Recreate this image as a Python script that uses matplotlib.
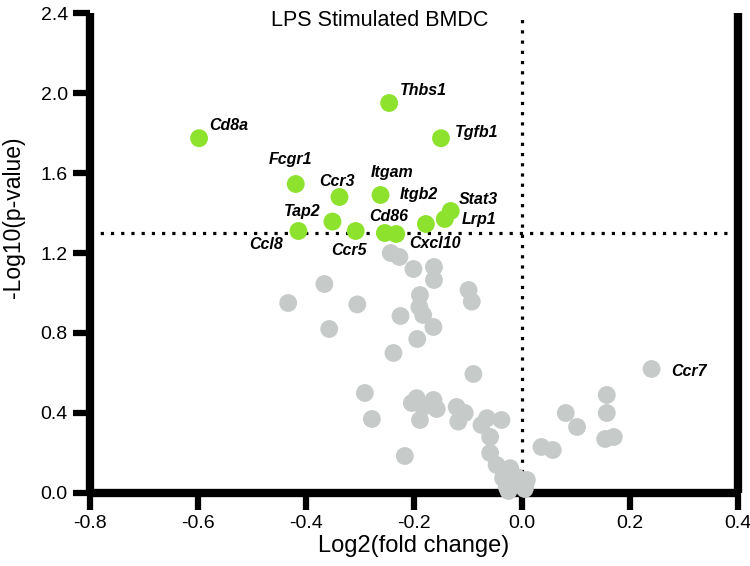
import matplotlib
matplotlib.use("Agg")
import matplotlib.pyplot as plt

plt.rcParams['font.family'] = ['Liberation Sans', 'DejaVu Sans']

# Significant genes (green)
sig_genes = ["Cd8a", "Thbs1", "Tgfb1", "Fcgr1", "Ccr3", "Itgam", "Stat3", "Lrp1",
             "Itgb2", "Tap2", "Ccl8", "Ccr5", "Cd86", "Cxcl10"]
sig_x = [-0.598, -0.246, -0.150, -0.419, -0.338, -0.262, -0.132, -0.143,
         -0.178, -0.351, -0.414, -0.308, -0.254, -0.233]
sig_y = [1.774, 1.950, 1.774, 1.545, 1.480, 1.490, 1.410, 1.370,
         1.345, 1.357, 1.310, 1.310, 1.300, 1.295]

# Non-significant genes (grey)
ns_x = [-0.243, -0.227, -0.201, -0.163, -0.163, -0.099, -0.093, -0.189, -0.190,
        -0.183, -0.225, -0.164, -0.194, -0.238, -0.366, -0.433, -0.305, -0.357,
        -0.090, -0.291, -0.278, -0.195, -0.164, -0.183, -0.158, -0.189, -0.204,
        -0.121, -0.106, -0.118, -0.065, -0.038, -0.075, -0.059, -0.217, -0.059,
        -0.047, -0.022, -0.035, -0.028, 0.006, 0.009, -0.010, 0.036, 0.057,
        0.081, 0.102, 0.157, 0.157, 0.154, 0.170, 0.240, -0.025, 0.005]
ns_y = [1.200, 1.180, 1.120, 1.130, 1.065, 1.015, 0.957, 0.990, 0.930,
        0.890, 0.885, 0.830, 0.770, 0.700, 1.045, 0.950, 0.943, 0.820,
        0.595, 0.500, 0.370, 0.474, 0.465, 0.430, 0.420, 0.365, 0.450,
        0.430, 0.400, 0.357, 0.374, 0.365, 0.340, 0.280, 0.185, 0.200,
        0.140, 0.124, 0.074, 0.030, 0.040, 0.065, 0.080, 0.230, 0.215,
        0.400, 0.330, 0.490, 0.400, 0.270, 0.280, 0.620, 0.010, 0.020]

ccr7_label = ("Ccr7", 0.240, 0.620)

# label offsets in points (dx, dy) and alignment
label_layout = {
    "Cd8a":   (7, 9, 'left'),
    "Thbs1":  (8, 9, 'left'),
    "Tgfb1":  (10, 4, 'left'),
    "Fcgr1":  (-4, 18, 'center'),
    "Ccr3":   (-2, 11, 'center'),
    "Itgam":  (8, 16, 'center'),
    "Stat3":  (6, 8, 'left'),
    "Lrp1":   (12, 0, 'left'),
    "Itgb2":  (-5, 21, 'center'),
    "Tap2":   (-22, 7, 'center'),
    "Ccl8":   (-23, -10, 'center'),
    "Ccr5":   (-5, -14, 'center'),
    "Cd86":   (3, 12, 'center'),
    "Cxcl10": (28, -7, 'center'),
}

xticks = [-0.8, -0.6, -0.4, -0.2, 0.0, 0.2, 0.4]
yticks = [0.0, 0.4, 0.8, 1.2, 1.6, 2.0, 2.4]

fig = plt.figure(figsize=(7.5, 5.66), dpi=100)
ax = fig.add_axes([0.12, 0.129, 0.864, 0.848])

green = '#8CE22C'
grey = '#C6CBC9'

ax.axhline(1.3, color='black', linestyle=(0, (1, 2.2)), linewidth=2.3, zorder=1)
ax.axvline(0.0, color='black', linestyle=(0, (1, 2.2)), linewidth=2.3, zorder=1)

ax.scatter(ns_x, ns_y, s=165, color=grey, edgecolors='none', zorder=3, clip_on=False)
ax.scatter(sig_x, sig_y, s=165, color=green, edgecolors='none', zorder=4, clip_on=False)

for name, x, y in zip(sig_genes, sig_x, sig_y):
    dx, dy, ha = label_layout[name]
    ax.annotate(name, (x, y), xytext=(dx, dy), textcoords='offset points',
                ha=ha, va='center', fontsize=11.5, fontweight='bold', fontstyle='italic')

ax.annotate(ccr7_label[0], (ccr7_label[1], ccr7_label[2]), xytext=(14, -2),
            textcoords='offset points', ha='left', va='center', fontsize=11.5,
            fontweight='bold', fontstyle='italic')

ax.text(-0.263, 2.365, "LPS Stimulated BMDC", ha='center', va='center', fontsize=15.5)

ax.set_xlim(-0.8, 0.4)
ax.set_ylim(0.0, 2.4)
ax.set_xticks(xticks)
ax.set_yticks(yticks)
ax.set_xticklabels([f"{t:.1f}" for t in xticks])
ax.set_yticklabels([f"{t:.1f}" for t in yticks])

for side in ['left', 'bottom', 'right']:
    ax.spines[side].set_linewidth(6)
    ax.spines[side].set_capstyle('butt')
ax.spines['top'].set_visible(False)
ax.tick_params(axis='both', width=4.5, length=12, labelsize=14, pad=4)
ax.tick_params(axis='y', right=False)

ax.set_xlabel("Log2(fold change)", fontsize=17, labelpad=2)
ax.set_ylabel("-Log10(p-value)", fontsize=16.5)
ax.yaxis.set_label_coords(-0.1, 0.575)

fig.savefig("out.png", dpi=100)
